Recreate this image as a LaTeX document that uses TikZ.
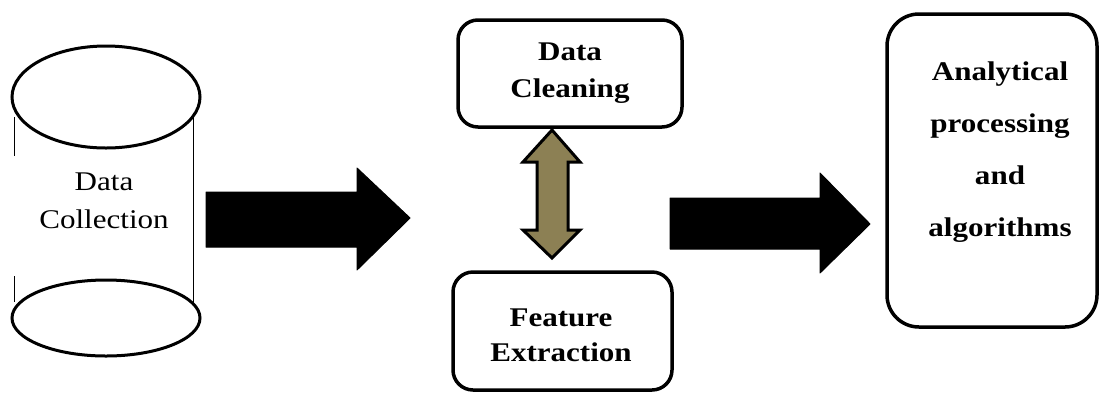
\documentclass[tikz,border=0pt]{standalone}
\usepackage{fontspec}
\setmainfont{Liberation Serif}[FakeStretch=1.15]
\usetikzlibrary{shapes.geometric}
\definecolor{olive}{RGB}{140,128,84}
\tikzset{
  boxnode/.style={draw=black, line width=3.5pt, rounded corners=20pt, fill=white},
  ellnode/.style={ellipse, draw=black, line width=3pt, fill=white},
  blockarrow/.style={fill=black, draw=black, line width=1pt, line join=round},
  lbl/.style={align=center, font=\fontsize{27}{37}\selectfont\bfseries},
  lblreg/.style={align=center, font=\fontsize{27}{38}\selectfont}
}
\begin{document}
\begin{tikzpicture}[x=1pt,y=-1pt]
\useasboundingbox (0,0) rectangle (1099,392);
% cylinder
\coordinate (lt1) at (14,117); \coordinate (lb1) at (14,156);
\coordinate (lt2) at (14,276); \coordinate (lb2) at (14,302);
\coordinate (rt) at (193,117); \coordinate (rb) at (193,302);
\draw[line width=1pt] (lt1) -- (lb1);
\draw[line width=1pt] (lt2) -- (lb2);
\draw[line width=1pt] (rt) -- (rb);
\node[ellnode, minimum width=188pt, minimum height=102pt] (topell) at (106,97) {};
\node[ellnode, minimum width=188pt, minimum height=76pt] (botell) at (106,318) {};
\node[lblreg] (coll) at (104,201) {Data\\Collection};
% arrow 1
\draw[blockarrow] (206,192) -- (357,192) -- (357,168) -- (410,218) -- (357,270) -- (357,247) -- (206,247) -- cycle;
% boxes
\node[boxnode, minimum width=224pt, minimum height=107pt] (clean) at (570,73.5) {};
\node[lbl] (cleant) at (570,73.5) {Data\\Cleaning};
\node[boxnode, minimum width=219pt, minimum height=118pt] (feat) at (562.5,331) {};
\node[lbl, font=\fontsize{27}{35}\selectfont\bfseries] (featt) at (561,335.5) {Feature\\Extraction};
% double arrow
\draw[fill=olive, draw=black, line width=3pt, line join=miter]
  (552,130) -- (580,162) -- (568,162) -- (568,230) -- (580,230) -- (552,258)
  -- (523,230) -- (537,230) -- (537,162) -- (523,162) -- cycle;
% arrow 2
\draw[blockarrow] (670,198) -- (820,198) -- (820,173) -- (870,224) -- (820,273) -- (820,249) -- (670,249) -- cycle;
% analytical box
\node[boxnode, rounded corners=32pt, minimum width=210pt, minimum height=313pt] (anal) at (992,170.5) {};
\node[lbl, font=\fontsize{27}{52}\selectfont\bfseries] (analt) at (1000,152.5) {Analytical\\processing\\and\\algorithms};
\end{tikzpicture}
\end{document}
